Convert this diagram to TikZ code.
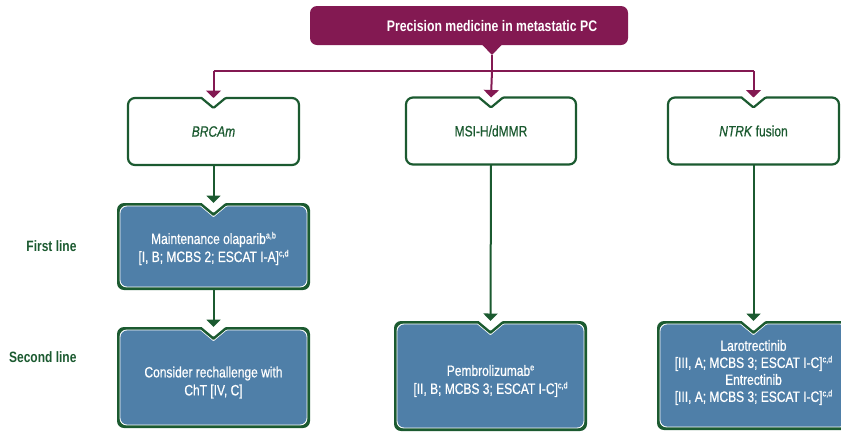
\documentclass[tikz,border=0pt]{standalone}
\usepackage{fontspec}
\setmainfont{Liberation Sans}[FakeStretch=0.8]
\newfontfamily\medium{Liberation Sans}[FakeStretch=0.8, FakeBold=0.6]
\usetikzlibrary{arrows.meta,calc}

\definecolor{plum}{RGB}{131,25,82}
\definecolor{forest}{RGB}{27,90,48}
\definecolor{steel}{RGB}{79,127,168}

% box outline with a V notch at the top centre; #1 node, #2 inset, #3 fill options
\newcommand\notchfill[3]{%
  \fill[#3] ($(#1.north)+(0,10+1.3*#2)$) -- ($(#1.north)+(-12-0.36*#2,#2)$)
    [rounded corners=7] -- ($(#1.north west)+(#2,#2)$) -- ($(#1.south west)+(#2,-#2)$)
    -- ($(#1.south east)+(-#2,-#2)$) -- ($(#1.north east)+(-#2,#2)$)
    [rounded corners=1] -- ($(#1.north)+(12+0.36*#2,#2)$) -- cycle;}
\newcommand\notchdraw[1]{%
  \draw[forest, line width=2.2, fill=white] ($(#1.north)+(0,10)$) -- ($(#1.north)+(-12,0)$)
    [rounded corners=7] -- (#1.north west) -- (#1.south west)
    -- (#1.south east) -- (#1.north east)
    [rounded corners=1] -- ($(#1.north)+(12,0)$) -- cycle;}
\newcommand\solidbox[1]{%
  \notchfill{#1}{0}{forest}\notchfill{#1}{2.6}{white}\notchfill{#1}{3.4}{steel}}
\newcommand\supnote[1]{\raisebox{5.5pt}{\fontsize{9}{9}\selectfont #1}}

\tikzset{
  frame/.style n args={2}{inner sep=0, outer sep=0, minimum width=#1, minimum height=#2},
  boxtext/.style={text=white, align=center, font=\medium\fontsize{15}{18}\selectfont},
  headtext/.style={text=forest, align=center, font=\medium\fontsize{15}{18}\selectfont},
  rowlabel/.style={text=forest, anchor=east, font=\bfseries\fontsize{15}{18}\selectfont},
  plumarrow/.style={plum, line width=2, -{Triangle[width=15pt,length=7.5pt]}},
  plumline/.style={plum, line width=2},
  greenarrow/.style={forest, line width=2, -{Triangle[width=14pt,length=7.5pt]}},
}

\begin{document}
\begin{tikzpicture}[x=1pt, y=-1pt]
\useasboundingbox (0,0) rectangle (841,432);
\clip (0,0) rectangle (841,432);

% title banner with its pointer
\node[frame={318}{39}, fill=plum, rounded corners=7] (topbox) at (469,25.5) {};
\coordinate (ptr) at (492,55);
\fill[plum] ($(ptr |- topbox.south)+(-10,-0.5)$) -- ($(ptr |- topbox.south)+(10,-0.5)$) -- (ptr) -- cycle;
\node[text=white, font=\bfseries\fontsize{15.3}{18}\selectfont] (title) at (492,26) {Precision medicine in metastatic PC};

% biomarker boxes
\node[frame={171}{67}] (brca) at (213.5,131.5) {};
\node[frame={170}{67}] (msi)  at (491,131) {};
\node[frame={171}{67}] (ntrk) at (753.5,131) {};
\notchdraw{brca}\notchdraw{msi}\notchdraw{ntrk}
\node[headtext] (brcat) at (brca) {\itshape BRCAm};
\node[headtext] (msit)  at (msi)  {MSI-H/dMMR};
\node[headtext] (ntrkt) at (ntrk) {\textit{NTRK} fusion};

% treatment boxes
\node[frame={193}{87}]  (first)  at (213.5,246.5) {};
\node[frame={193}{101}] (second) at (213.5,377.5) {};
\node[frame={193}{110}] (pembro) at (490.5,376) {};
\node[frame={193}{109}] (trk)    at (753.5,375.5) {};
\solidbox{first}\solidbox{second}\solidbox{pembro}\solidbox{trk}

\node[boxtext, yshift=-2pt] (firstt) at (first)
  {Maintenance olaparib\supnote{a,b}\\\relax[I, B; MCBS 2; ESCAT I-A]\supnote{c,d}};
\node[boxtext, yshift=-5pt] (secondt) at (second)
  {Consider rechallenge with\\ChT [IV, C]};
\node[boxtext, yshift=-5pt] (pembrot) at (pembro)
  {Pembrolizumab\supnote{e}\\\relax[II, B; MCBS 3; ESCAT I-C]\supnote{c,d}};
\node[boxtext, font=\medium\fontsize{15}{17}\selectfont, yshift=3pt] (trkt) at (trk)
  {Larotrectinib\\\relax[III, A; MCBS 3; ESCAT I-C]\supnote{c,d}\\Entrectinib\\\relax[III, A; MCBS 3; ESCAT I-C]\supnote{c,d}};

% line-of-therapy labels
\node[rowlabel] (l1) at (80,246) {First line};
\node[rowlabel] (l2) at (80,357) {Second line};

% purple distribution bus
\coordinate (bus) at (492,71);
\draw[plumline] (ptr) -- (bus);
\draw[plumline] (brca.north |- bus) -- (ntrk.north |- bus);
\draw[plumarrow] (brca.north |- bus) -- (brca.north);
\draw[plumarrow] (bus) -- (msi.north);
\draw[plumarrow] (ntrk.north |- bus) -- (ntrk.north);

% green flow arrows
\draw[greenarrow] (brca.south) -- (first.north);
\draw[greenarrow] (first.south) -- (second.north);
\draw[greenarrow] (msi.south) -- (pembro.north);
\draw[greenarrow] (ntrk.south) -- (trk.north);
\end{tikzpicture}
\end{document}
